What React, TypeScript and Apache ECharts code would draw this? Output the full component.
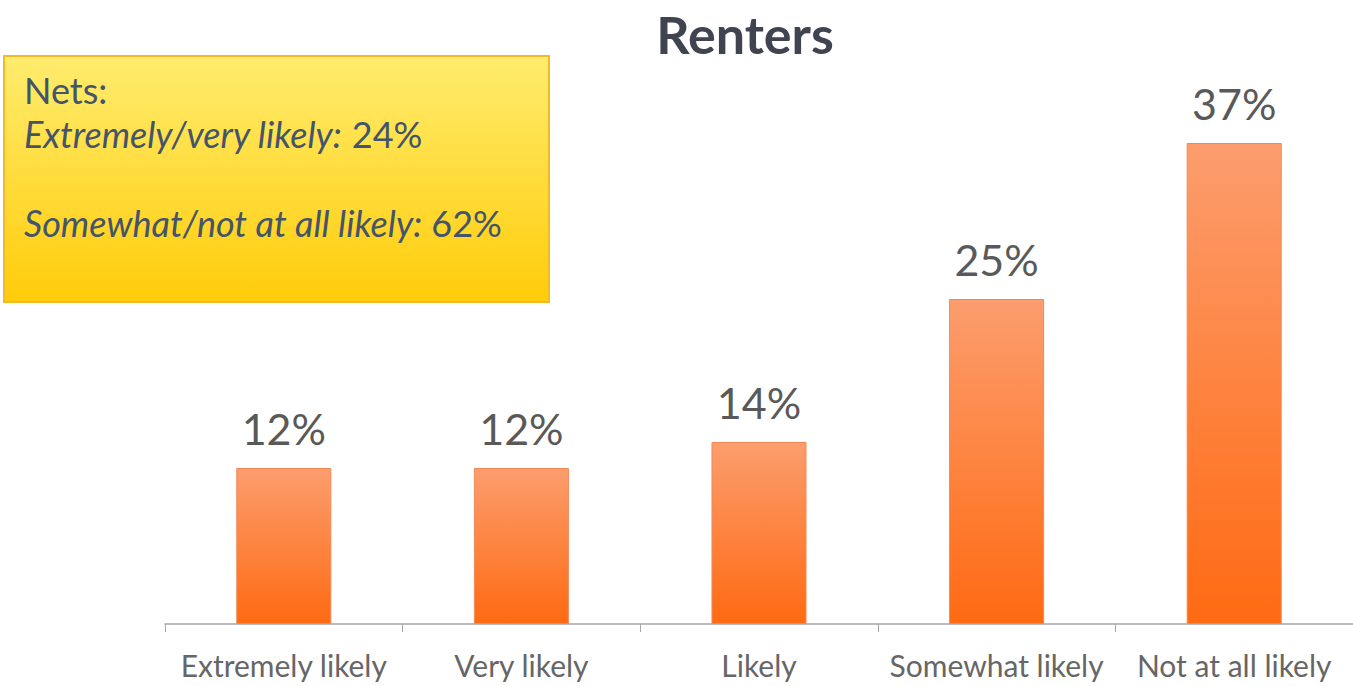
import React, { useEffect, useRef } from "react";
import * as echarts from "echarts";

const categories = ["Extremely likely", "Very likely", "Likely", "Somewhat likely", "Not at all likely"];
const values = [12, 12, 14, 25, 37];
const title = "Renters";
const netsHeader = "Nets:";
const netsLines = [
  { label: "Extremely/very likely:", value: "24%" },
  { label: "Somewhat/not at all likely:", value: "62%" },
];

export default function App() {
  const ref = useRef<HTMLDivElement>(null);
  useEffect(() => {
    if (!ref.current) return;
    const chart = echarts.init(ref.current, null, { renderer: "svg" });
    const font = "Lato, 'Open Sans', sans-serif";
    const boxColor = "#44546a";
    const rich = {
      i: { fontStyle: "italic", fontFamily: font, fontSize: 36, fill: boxColor },
      n: { fontFamily: font, fontSize: 36, fill: boxColor },
    };
    chart.setOption({
      animation: false,
      backgroundColor: "#ffffff",
      title: {
        text: title,
        left: 740,
        textAlign: "center",
        top: 3,
        textStyle: { fontFamily: font, fontSize: 52, fontWeight: "bold", color: "#3f4450" },
      },
      grid: { left: 165, right: -2, top: 104, bottom: 62 },
      xAxis: {
        type: "category",
        data: categories,
        boundaryGap: true,
        axisLine: { lineStyle: { color: "#a6a6a6", width: 1.5 } },
        axisTick: { show: true, length: 8, lineStyle: { color: "#a6a6a6" } },
        axisLabel: { fontFamily: font, fontSize: 30, color: "#666666", margin: 26, interval: 0 },
      },
      yAxis: {
        type: "value",
        min: 0,
        max: 40,
        show: false,
        splitLine: { show: false },
      },
      series: [
        {
          type: "bar",
          data: values,
          barWidth: "40%",
          itemStyle: {
            color: new echarts.graphic.LinearGradient(0, 0, 0, 1, [
              { offset: 0, color: "#fc9d6e" },
              { offset: 1, color: "#ff6a12" },
            ]),
            borderColor: "#f08a55",
            borderWidth: 1,
          },
          label: {
            show: true,
            position: "top",
            distance: 18,
            formatter: "{c}%",
            fontFamily: font,
            fontSize: 43,
            color: "#595959",
          },
        },
      ],
      graphic: [
        {
          type: "rect",
          shape: { x: 4, y: 56, width: 545, height: 246 },
          style: {
            fill: new echarts.graphic.LinearGradient(0, 0, 0, 1, [
              { offset: 0, color: "#ffec6e" },
              { offset: 1, color: "#ffcc0a" },
            ]),
            stroke: "#f7b825",
            lineWidth: 2,
          },
        },
        {
          type: "text",
          x: 24,
          y: 90,
          style: { text: netsHeader, fontFamily: font, fontSize: 36, fill: boxColor, verticalAlign: "middle" },
        },
        {
          type: "text",
          x: 24,
          y: 134,
          style: {
            text: `{i|${netsLines[0].label}} {n|${netsLines[0].value}}`,
            rich,
            fontFamily: font,
            fontSize: 36,
            fill: boxColor,
            verticalAlign: "middle",
          },
        },
        {
          type: "text",
          x: 24,
          y: 223,
          style: {
            text: `{i|${netsLines[1].label}} {n|${netsLines[1].value}}`,
            rich,
            fontFamily: font,
            fontSize: 36,
            fill: boxColor,
            verticalAlign: "middle",
          },
        },
      ],
    });
    return () => chart.dispose();
  }, []);
  return (
    <div
      ref={ref}
      style={{ position: "fixed", left: 0, top: 0, width: 1353, height: 686 }}
    />
  );
}
